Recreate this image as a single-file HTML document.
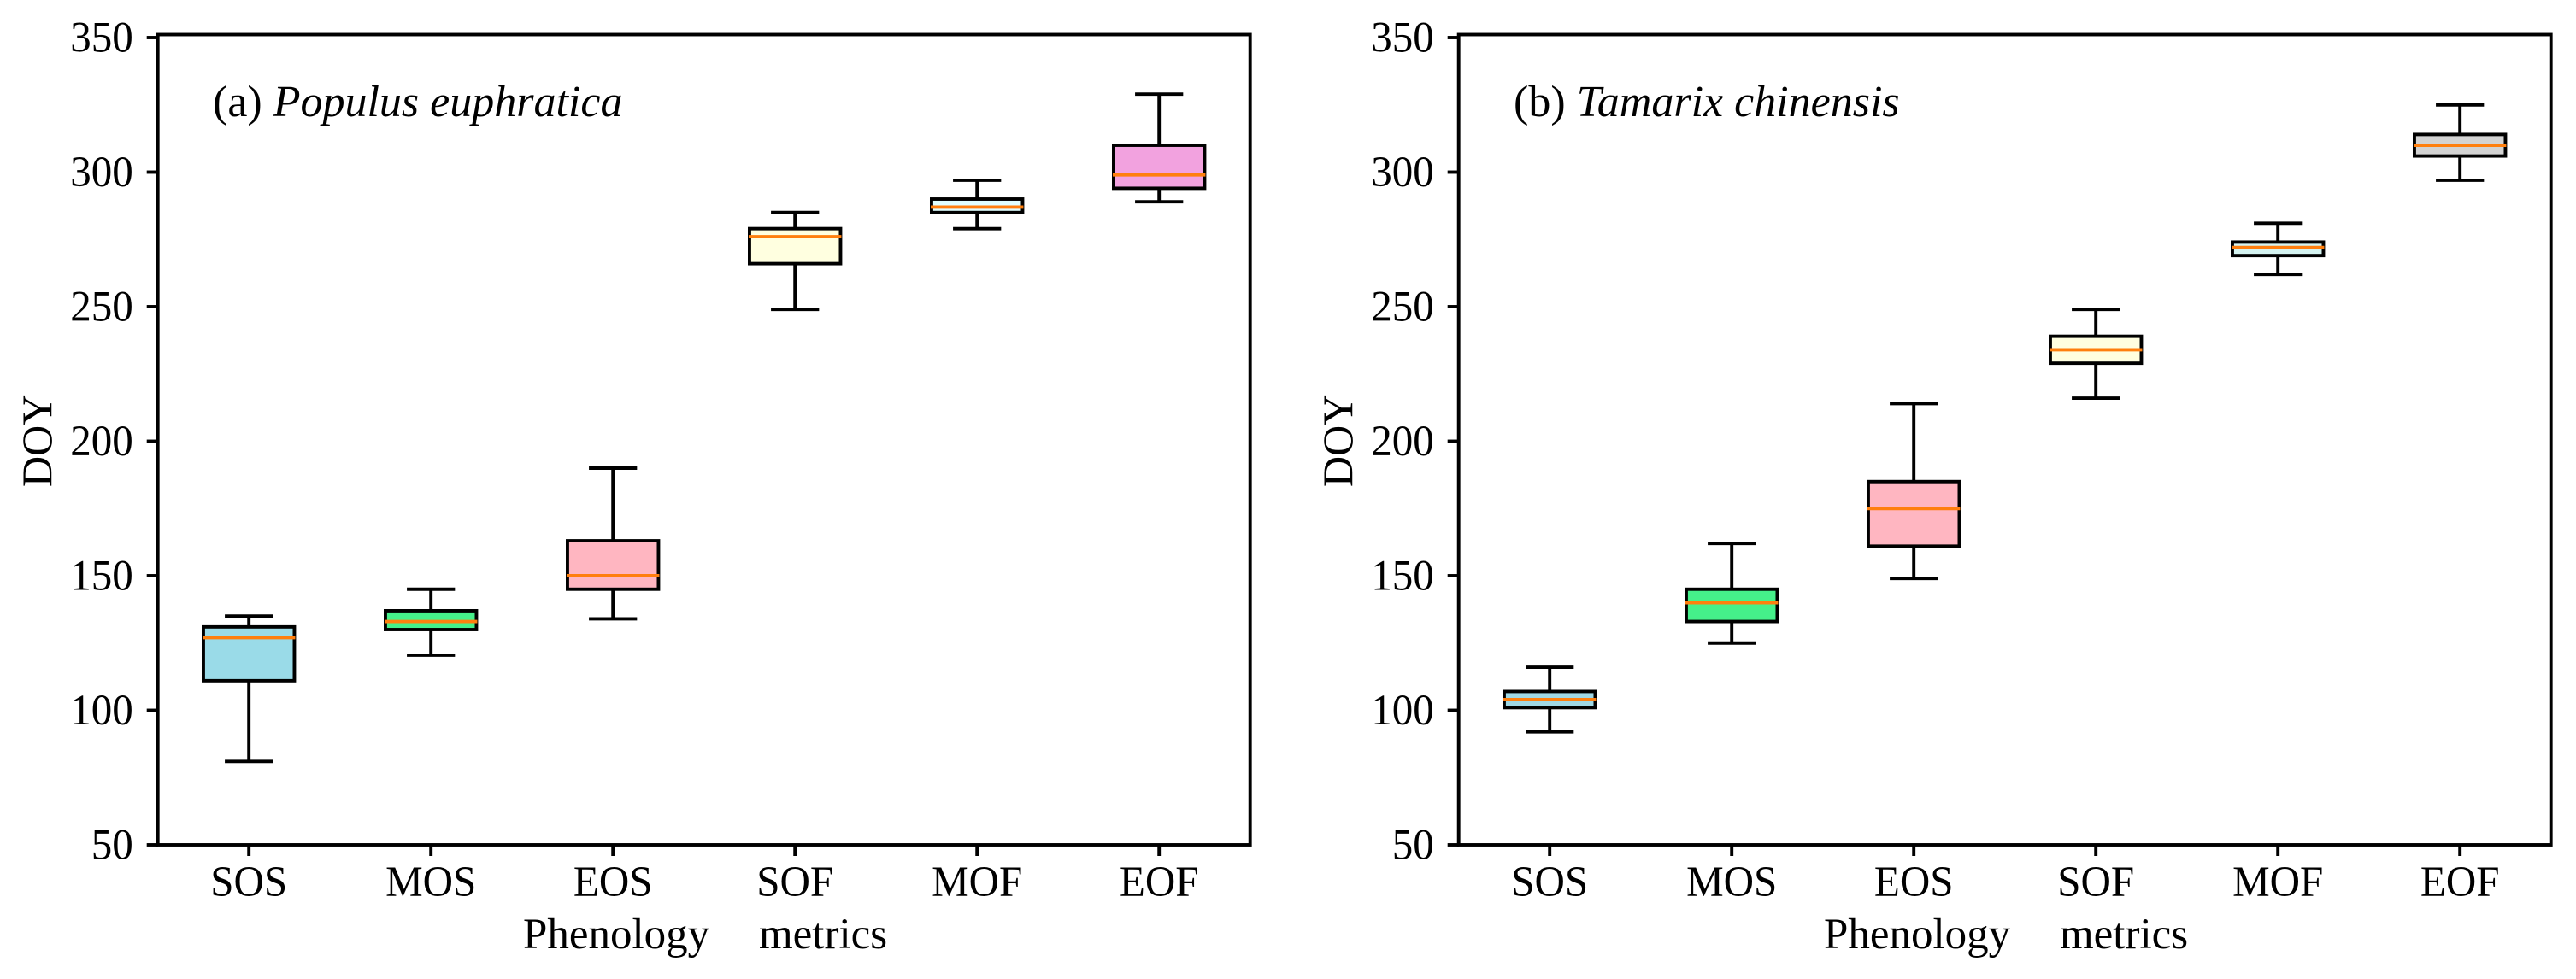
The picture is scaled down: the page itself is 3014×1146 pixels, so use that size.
<!DOCTYPE html>
<html>
<head>
<meta charset="utf-8">
<title>Phenology metrics box plots</title>
<style>
html,body{margin:0;padding:0;background:#fff;width:3014px;height:1146px;overflow:hidden}
svg{display:block;position:absolute;left:0;top:0}
text{font-family:"Liberation Serif",serif;fill:#000}
</style>
</head>
<body>
<svg id="chart" xmlns="http://www.w3.org/2000/svg" width="3014" height="1146" viewBox="0 0 3014 1146">
  <rect x="0" y="0" width="3014" height="1146" fill="#fff"/>
  <g id="panel-a"></g>
  <g id="panel-b"></g>

  <text x="249" y="136" font-size="52">(a) <tspan font-style="italic">Populus euphratica</tspan></text>
  <text x="1771" y="136" font-size="52">(b) <tspan font-style="italic">Tamarix chinensis</tspan></text>

  <text transform="translate(60,570) rotate(-90)" font-size="50">DOY</text>
  <text transform="translate(1582,570) rotate(-90)" font-size="50">DOY</text>

  <text x="612" y="1110" font-size="51">Phenology<tspan x="888">metrics</tspan></text>
  <text x="2134" y="1110" font-size="51">Phenology<tspan x="2410">metrics</tspan></text>
</svg>
<script>
const categories = ['SOS', 'MOS', 'EOS', 'SOF', 'MOF', 'EOF'];
const yTickValues = [50, 100, 150, 200, 250, 300, 350];

const populusWhiskerLow = [81, 120.5, 134, 249, 279, 289];
const populusQ1 = [111, 130, 145, 266, 285, 294];
const populusMedian = [127, 133, 150, 276, 287, 299];
const populusQ3 = [131, 137, 163, 279, 290, 310];
const populusWhiskerHigh = [135, 145, 190, 285, 297, 329];

const tamarixWhiskerLow = [92, 125, 149, 216, 262, 297];
const tamarixQ1 = [101, 133, 161, 229, 269, 306];
const tamarixMedian = [104, 140, 175, 234, 272, 310];
const tamarixQ3 = [107, 145, 185, 239, 274, 314];
const tamarixWhiskerHigh = [116, 162, 214, 249, 281, 325];

const populusFills = ['#9adbe8', '#45f08a', '#ffb6c1', '#ffffe0', '#e0ffff', '#f2a2df'];
const tamarixFills = ['#9fd8e5', '#45f08a', '#ffb6c1', '#ffffe0', '#d4f3f0', '#d3d3d3'];

const SVG_NS = 'http://www.w3.org/2000/svg';
const STROKE = 3.9;
const TOP = 40.5, BOTTOM = 989, Y0 = 989, PX_PER_UNIT = 3.15, PANEL_W = 1278;

function make(parent, tag, attrs, txt) {
  const node = document.createElementNS(SVG_NS, tag);
  for (const k in attrs) node.setAttribute(k, attrs[k]);
  if (txt !== undefined) node.textContent = txt;
  parent.appendChild(node);
  return node;
}

function drawPanel(g, left, prefix, low, q1, med, q3, high, fills) {
  const yOf = v => Y0 - (v - 50) * PX_PER_UNIT;
  const xOf = i => left + (i + 0.5) * PANEL_W / categories.length;
  const unit = PANEL_W / categories.length;
  const boxW = unit * 0.5, capW = unit * 0.25 + 3;

  categories.forEach((cat, i) => {
    const cx = xOf(i);
    const box = make(g, 'g', {});
    
    

    const lineAttrs = (x1, y1, x2, y2) => ({x1, y1, x2, y2, stroke: '#000', 'stroke-width': STROKE});

    const whiskerHigh = make(box, 'line', lineAttrs(cx, yOf(high[i]), cx, yOf(q3[i])));
    
    

    const whiskerLow = make(box, 'line', lineAttrs(cx, yOf(q1[i]), cx, yOf(low[i])));
    
    

    const capHigh = make(box, 'line', lineAttrs(cx - capW / 2, yOf(high[i]), cx + capW / 2, yOf(high[i])));
    
    

    const capLow = make(box, 'line', lineAttrs(cx - capW / 2, yOf(low[i]), cx + capW / 2, yOf(low[i])));
    
    

    const rect = make(box, 'rect', {
      x: cx - boxW / 2, y: yOf(q3[i]), width: boxW, height: yOf(q1[i]) - yOf(q3[i]),
      fill: fills[i], stroke: '#000', 'stroke-width': STROKE
    });
    
    

    const median = make(box, 'line', {
      x1: cx - boxW / 2 - 1, y1: yOf(med[i]), x2: cx + boxW / 2 + 1, y2: yOf(med[i]),
      stroke: '#ff7f0e', 'stroke-width': STROKE
    });
    
    

    const tick = make(g, 'line', {x1: cx, y1: BOTTOM, x2: cx, y2: BOTTOM + 13, stroke: '#000', 'stroke-width': STROKE});
    
    

    const label = make(g, 'text', {
      transform: 'translate(' + cx + ',1049) scale(1,1.03)', 'font-size': 49, 'text-anchor': 'middle'
    }, cat);
    
    
  });

  yTickValues.forEach(v => {
    const y = yOf(v);
    const tick = make(g, 'line', {x1: left - 13, y1: y, x2: left, y2: y, stroke: '#000', 'stroke-width': STROKE});
    
    

    const label = make(g, 'text', {
      transform: 'translate(' + (left - 29) + ',' + (y + 16.5) + ') scale(1,1.03)',
      'font-size': 49, 'text-anchor': 'end'
    }, String(v));
    
    
  });

  const frame = make(g, 'rect', {
    x: left, y: TOP, width: PANEL_W, height: BOTTOM - TOP,
    fill: 'none', stroke: '#000', 'stroke-width': 3.9
  });
  
  
}

drawPanel(document.getElementById('panel-a'), 184.7, 'panel-a',
  populusWhiskerLow, populusQ1, populusMedian, populusQ3, populusWhiskerHigh, populusFills);
drawPanel(document.getElementById('panel-b'), 1706.7, 'panel-b',
  tamarixWhiskerLow, tamarixQ1, tamarixMedian, tamarixQ3, tamarixWhiskerHigh, tamarixFills);
</script>
</body>
</html>
